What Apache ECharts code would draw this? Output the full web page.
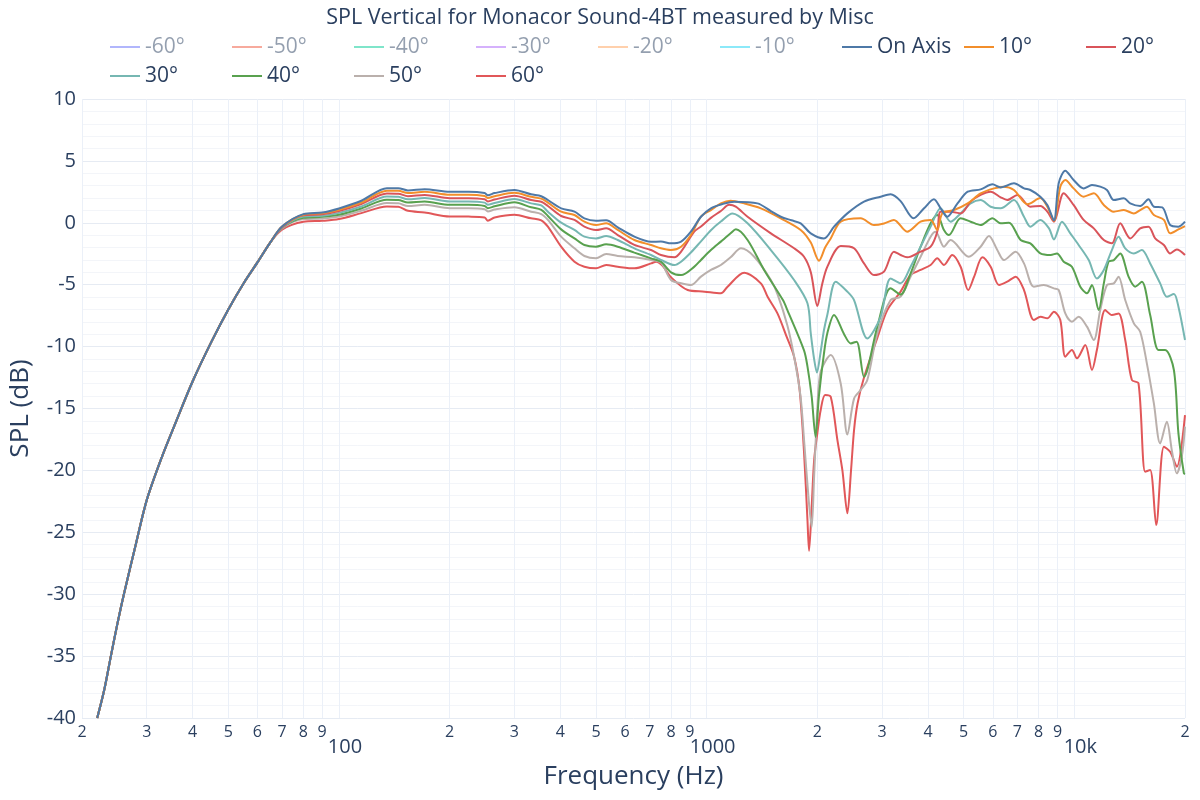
<!DOCTYPE html>
<html>
<head>
<meta charset="utf-8">
<script src="https://cdn.jsdelivr.net/npm/echarts@6.0.0/dist/echarts.min.js"></script>
<style>
html,body{margin:0;padding:0;background:#fff;}
#chart{width:1200px;height:800px;}
</style>
</head>
<body>
<div id="chart"></div>
<script>
const TITLE = 'SPL Vertical for Monacor Sound-4BT measured by Misc';
const X_TICKS = [20,30,40,50,60,70,80,90,100,200,300,400,500,600,700,800,900,1000,2000,3000,4000,5000,6000,7000,8000,9000,10000,20000];

// shared low-frequency roll-off (all angles coincide here)
const FREQ_LOW = [22,23,24,25,26,28,30,33,36,40,45,50,55,60,65];
const SPL_LOW = [-40,-37.7,-34.9,-32.3,-30,-26,-22.4,-18.9,-16.1,-12.8,-9.6,-7,-4.9,-3.2,-1.6];

const ON_AXIS = [[70,-0.3],[80,0.7],[90,0.83],[100,1.16],[115,1.78],[135,2.8],[145,2.8],[154,2.61],[171,2.72],[200,2.5],[225,2.5],[249,2.4],[254,2.23],[265,2.4],[300,2.65],[333,2.3],[355,2.15],[370,1.84],[402,1.17],[437,0.9],[465,0.36],[500,0.17],[533,0.2],[573,-0.37],[636,-1.12],[706,-1.53],[751,-1.52],[800,-1.66],[852,-1.52],[906,-0.72],[965,0.49],[1027,1.17],[1100,1.5],[1188,1.71],[1375,1.57],[1495,0.95],[1591,0.49],[1700,0.2],[1802,-0.04],[1919,-0.85],[2085,-1.26],[2221,-0.31],[2414,0.76],[2679,1.71],[2973,2.11],[3165,2.3],[3369,1.75],[3655,0.36],[3902,1.17],[4151,1.9],[4329,1.17],[4511,0.49],[4812,1.57],[5128,2.51],[5561,2.7],[5988,3.11],[6303,2.86],[6852,3.19],[7296,2.78],[7593,2.65],[8083,2.11],[8444,1.44],[8800,0.2],[9068,3.19],[9451,4.21],[9954,3.46],[10600,2.78],[11168,3.05],[11763,2.92],[12266,2.65],[12807,1.84],[13636,1.98],[14191,1.57],[15106,1.36],[15912,1.9],[16458,1.3],[17344,1.25],[18224,-0.18],[19194,-0.31],[20000,0.09]];

const DEG_10 = [[70,-0.3],[80,0.65],[90,0.78],[100,1.05],[115,1.64],[135,2.58],[145,2.58],[154,2.4],[171,2.5],[200,2.26],[225,2.26],[249,2.16],[254,2.0],[265,2.15],[300,2.42],[333,2.1],[355,1.95],[370,1.63],[402,0.9],[437,0.63],[465,0.09],[500,-0.18],[533,-0.04],[573,-0.58],[636,-1.39],[706,-1.79],[751,-2.06],[800,-2.2],[852,-1.93],[906,-0.99],[965,0.49],[1027,1.03],[1093,1.57],[1162,1.79],[1265,1.57],[1404,1.17],[1591,0.36],[1802,-0.58],[1920,-1.6],[2021,-3.06],[2100,-2.0],[2175,-1.26],[2316,0.09],[2624,0.36],[2852,-0.18],[3036,-0.05],[3231,0.23],[3510,-0.72],[3819,0.09],[4066,0.23],[4238,-0.58],[4374,0.76],[4708,1.03],[5128,1.57],[5561,2.38],[6051,2.78],[6435,2.92],[6852,2.65],[7443,1.5],[7593,1.57],[8083,2.0],[8444,1.3],[8800,0.17],[9160,2.92],[9451,3.46],[9954,2.78],[10600,2.11],[11298,2.38],[12029,1.44],[12807,0.9],[13636,1.03],[14518,0.76],[15106,1.03],[15750,1.3],[16458,0.63],[17523,0.23],[18224,-0.85],[19194,-0.53],[20000,-0.26]];

const DEG_20 = [[70,-0.35],[80,0.6],[90,0.68],[100,0.95],[115,1.51],[135,2.37],[145,2.35],[154,2.15],[171,2.25],[200,1.99],[225,1.99],[249,1.9],[254,1.72],[265,1.88],[300,2.18],[333,1.84],[355,1.7],[370,1.36],[402,0.55],[437,0.23],[465,-0.31],[500,-0.58],[533,-0.45],[573,-0.99],[636,-1.79],[706,-2.2],[751,-2.6],[817,-2.79],[852,-2.33],[926,-0.7],[965,-0.3],[1027,0.4],[1093,0.95],[1151,1.45],[1200,1.3],[1292,0.49],[1495,-0.85],[1729,-2.06],[1840,-2.74],[1920,-4.0],[2000,-6.72],[2060,-5.0],[2130,-3.54],[2316,-1.88],[2517,-2.06],[2679,-3.28],[2852,-4.22],[3036,-3.95],[3231,-2.33],[3369,-2.6],[3510,-2.79],[3819,-2.33],[4066,-1.93],[4238,-0.72],[4329,0.9],[4608,0.9],[4906,0.76],[5224,1.71],[5561,2.25],[5921,2.51],[6303,2.06],[6570,1.84],[7000,2.25],[7593,1.3],[8083,1.36],[8444,0.9],[8800,0.09],[9356,2.38],[9954,1.44],[10600,0.23],[11298,-0.45],[12029,-1.39],[12650,-1.66],[13330,-0.04],[14191,-1.26],[15106,-0.45],[15912,-0.31],[16592,-1.26],[17523,-1.79],[18224,-2.47],[19000,-2.15],[20000,-2.6]];

const DEG_30 = [[70,-0.4],[80,0.5],[90,0.57],[100,0.8],[115,1.32],[135,2.13],[145,2.1],[154,1.9],[171,2.0],[200,1.72],[225,1.72],[249,1.63],[254,1.45],[265,1.6],[300,1.92],[333,1.57],[355,1.4],[370,0.9],[402,0.01],[437,-0.58],[465,-1.12],[500,-1.26],[533,-1.07],[573,-1.39],[636,-2.06],[706,-2.6],[751,-3.0],[817,-3.41],[852,-3.14],[906,-2.4],[965,-1.5],[1027,-0.6],[1093,0.1],[1176,0.76],[1292,-0.04],[1495,-2.2],[1729,-4.62],[1880,-6.5],[1919,-8.9],[1960,-11.0],[1995,-12.1],[2040,-10.5],[2085,-8.66],[2130,-7.4],[2245,-4.76],[2414,-5.56],[2517,-6.24],[2735,-9.34],[2973,-7.59],[3165,-4.49],[3369,-4.89],[3587,-3.55],[3819,-1.93],[4066,-0.31],[4329,1.17],[4608,0.09],[4906,0.76],[5224,1.57],[5561,1.84],[5921,1.3],[6303,1.17],[6852,1.84],[7296,0.49],[7593,-0.31],[8083,0.23],[8535,-0.45],[8800,-1.34],[9256,0.09],[9751,-0.85],[10273,-1.79],[10943,-3.01],[11518,-4.49],[12029,-3.81],[12650,-2.2],[13190,-1.12],[13754,-2.06],[14518,-2.47],[15265,-2.2],[16081,-3.28],[17119,-4.89],[17849,-5.97],[18656,-5.75],[19194,-6.78],[20000,-9.47]];

const DEG_40 = [[70,-0.4],[80,0.4],[90,0.48],[100,0.65],[115,1.16],[135,1.86],[145,1.84],[154,1.64],[171,1.72],[200,1.45],[225,1.45],[249,1.36],[254,1.18],[265,1.33],[300,1.65],[333,1.25],[355,1.05],[370,0.55],[402,-0.53],[437,-1.26],[465,-1.79],[500,-1.93],[533,-1.74],[573,-1.93],[636,-2.41],[706,-2.87],[751,-3.14],[800,-4.0],[852,-4.22],[926,-3.54],[965,-3.0],[1027,-2.2],[1093,-1.52],[1162,-0.85],[1201,-0.53],[1292,-1.39],[1433,-3.81],[1612,-6.24],[1658,-7.05],[1840,-10.3],[1880,-11.6],[1930,-14.0],[1978,-17.3],[2020,-14.0],[2085,-10.55],[2130,-8.9],[2221,-7.45],[2365,-9.0],[2465,-9.74],[2557,-9.6],[2679,-12.43],[2912,-8.39],[3165,-5.29],[3369,-5.8],[3587,-4.08],[3819,-1.93],[4066,-0.04],[4238,0.63],[4420,-0.58],[4560,-0.99],[4906,0.36],[5224,0.09],[5561,-0.18],[5988,0.36],[6303,-0.04],[6641,0.01],[7145,-1.39],[7593,-1.66],[8083,-2.47],[8622,-2.6],[8970,-2.47],[9356,-3.14],[9850,-3.55],[10381,-5.16],[10825,-5.7],[11168,-5.03],[11643,-7.05],[12029,-4.89],[12393,-3.14],[12807,-3.01],[13330,-2.47],[14044,-4.35],[14641,-5.16],[15265,-4.76],[16081,-7.45],[16940,-10.28],[17663,-10.28],[18656,-11.89],[19194,-17.01],[19864,-20.24],[20000,-20.3]];

const DEG_50 = [[70,-0.45],[80,0.3],[90,0.35],[100,0.5],[115,0.97],[135,1.59],[145,1.57],[154,1.35],[171,1.45],[200,1.18],[225,1.18],[249,1.1],[254,0.92],[265,1.07],[300,1.25],[333,0.9],[355,0.7],[370,0.23],[402,-1.12],[437,-2.06],[465,-2.68],[500,-2.87],[533,-2.52],[573,-2.68],[636,-2.79],[706,-3.0],[751,-3.22],[800,-4.62],[852,-4.89],[906,-5.03],[965,-4.35],[1027,-3.81],[1093,-3.41],[1162,-2.79],[1240,-2.06],[1347,-2.74],[1495,-4.62],[1560,-5.8],[1658,-8.3],[1729,-10.8],[1800,-14.0],[1840,-17.5],[1890,-22.0],[1930,-24.6],[1960,-20.5],[2000,-15.0],[2043,-12.0],[2175,-10.68],[2316,-13.0],[2414,-17.1],[2517,-14.2],[2624,-13.5],[2735,-12.7],[2912,-8.93],[3165,-6.24],[3369,-5.97],[3587,-4.35],[3819,-2.74],[4066,-1.12],[4195,-0.72],[4420,-1.93],[4608,-1.39],[5163,-2.74],[5561,-1.93],[5859,-1.07],[6173,-2.2],[6435,-3.01],[6925,-2.33],[7296,-3.28],[7761,-5.16],[8262,-5.03],[8800,-5.3],[9068,-5.43],[9451,-7.32],[9850,-7.99],[10273,-7.59],[10825,-8.39],[11298,-9.47],[11763,-7.05],[12266,-5.03],[12807,-4.89],[13190,-4.35],[13754,-6.24],[14518,-8.12],[15106,-8.8],[15750,-11.35],[16458,-14.59],[17119,-17.82],[17849,-16.07],[18412,-18.36],[19000,-20.24],[19598,-18.9],[20000,-16.47]];

const DEG_60 = [[70,-0.55],[80,0.08],[90,0.16],[100,0.3],[115,0.78],[135,1.32],[145,1.3],[154,0.97],[171,0.83],[200,0.51],[225,0.5],[249,0.43],[254,0.16],[265,0.43],[300,0.65],[333,0.36],[355,0.2],[370,-0.31],[402,-1.93],[437,-3.14],[465,-3.55],[500,-3.68],[533,-3.41],[573,-3.55],[636,-3.68],[706,-3.28],[729,-3.15],[760,-3.5],[800,-4.4],[888,-5.43],[987,-5.56],[1093,-5.7],[1140,-5.16],[1265,-4.03],[1404,-4.89],[1466,-6.0],[1558,-7.32],[1650,-9.2],[1729,-10.82],[1790,-13.5],[1840,-18.5],[1880,-24.0],[1899,-26.5],[1930,-23.0],[1960,-19.2],[2000,-17.0],[2043,-15.1],[2100,-13.9],[2175,-14.05],[2268,-17.55],[2340,-20.0],[2414,-23.47],[2470,-20.0],[2517,-16.74],[2573,-14.6],[2679,-12.5],[2912,-9.3],[3100,-7.05],[3369,-5.56],[3587,-4.22],[3819,-3.81],[4066,-3.41],[4238,-2.87],[4420,-3.41],[4656,-2.6],[4906,-3.55],[5145,-5.43],[5340,-4.35],[5623,-2.79],[5921,-3.55],[6240,-5.03],[6570,-4.76],[6925,-4.35],[7296,-5.43],[7761,-7.85],[8098,-7.59],[8444,-7.72],[8800,-7.18],[9160,-7.85],[9451,-10.82],[9850,-10.28],[10166,-10.95],[10710,-9.87],[11168,-11.89],[11518,-10.28],[12137,-7.05],[12650,-7.45],[13190,-7.32],[13754,-9.47],[14339,-12.7],[14948,-12.97],[15586,-20.11],[16081,-19.97],[16701,-24.42],[17523,-18.09],[18224,-18.49],[19000,-19.7],[20000,-15.53]];

const HIDDEN_NAMES = ['-60°','-50°','-40°','-30°','-20°','-10°'];
const HIDDEN_COLORS = ['rgba(99,110,250,0.5)','rgba(239,85,59,0.5)','rgba(0,204,150,0.5)','rgba(171,99,250,0.5)','rgba(255,161,90,0.5)','rgba(25,211,243,0.5)'];
const SHOWN_NAMES = ['On Axis','10°','20°','30°','40°','50°','60°'];
const SHOWN_COLORS = ['#4e79a7','#f28e2b','#d9545a','#76b7b2','#59a14f','#bab0ac','#e15759'];
const SHOWN_DATA = [ON_AXIS, DEG_10, DEG_20, DEG_30, DEG_40, DEG_50, DEG_60];

const FONT = '"Open Sans", Verdana, Arial, sans-serif';
const TXT = '#2a3f5f';

function withLow(points){
  return FREQ_LOW.map((f,i)=>[f, SPL_LOW[i]]).concat(points);
}

const series = [];
HIDDEN_NAMES.forEach((n,i)=>{
  series.push({name:n, type:'line', data:[], symbol:'none', color:HIDDEN_COLORS[i], lineStyle:{width:2, color:HIDDEN_COLORS[i]}});
});
SHOWN_NAMES.forEach((n,i)=>{
  series.push({name:n, type:'line', data:withLow(SHOWN_DATA[i]), symbol:'none', smooth:0.3,
    color:SHOWN_COLORS[i], lineStyle:{width:2, color:SHOWN_COLORS[i]}, z: 10 - i});
});

// one legend box per entry, laid out on a fixed 122px column grid (two rows)
const allNames = HIDDEN_NAMES.concat(SHOWN_NAMES);
const legends = allNames.map((n,i)=>{
  const row = i < 9 ? 0 : 1;
  const col = i < 9 ? i : i - 9;
  return {
    show:true, orient:'horizontal', left:109 + col*122, top: row === 0 ? 35 : 64,
    padding:0, itemWidth:30, itemHeight:14, itemGap:5, selectedMode:false,
    itemStyle:{opacity:0},
    lineStyle:{width:2},
    textStyle:{fontFamily:FONT, fontSize:21, lineHeight:24, color: i < 6 ? 'rgba(42,63,95,0.5)' : TXT},
    data:[n]
  };
});

const chart = echarts.init(document.getElementById('chart'), null, {renderer:'canvas'});
chart.setOption({
  animation:false,
  backgroundColor:'#ffffff',
  title:{text:TITLE, left:'center', top:2, textStyle:{fontFamily:FONT, fontSize:21.5, fontWeight:'normal', color:TXT}},
  legend:legends,
  grid:{left:80, right:15, top:99, bottom:82, containLabel:false},
  xAxis:{
    type:'log', logBase:10, min:20, max:20000,
    name:'Frequency (Hz)', nameLocation:'middle', nameGap:46,
    nameTextStyle:{fontFamily:FONT, fontSize:26, color:TXT},
    axisLine:{show:false}, axisTick:{show:false, customValues:X_TICKS},
    axisLabel:{customValues:X_TICKS, margin:6, fontFamily:FONT, fontSize:16, color:TXT,
      formatter:function(v){
        const e = Math.round(Math.log10(v));
        const m = v/Math.pow(10,e);
        if (Math.abs(m-1) < 1e-6) {
          return '{big|' + (v >= 10000 ? (v/1000)+'k' : v) + '}';
        }
        return String(Math.round(v/Math.pow(10,Math.floor(Math.log10(v)+1e-9))));
      },
      rich:{big:{fontFamily:FONT, fontSize:20, color:TXT, padding:[13,0,0,12]}}
    },
    splitLine:{show:true, lineStyle:{color:'#ebf0f8', width:1}}
  },
  yAxis:{
    type:'value', min:-40, max:10, interval:5,
    name:'SPL (dB)', nameLocation:'middle', nameGap:48,
    nameTextStyle:{fontFamily:FONT, fontSize:26, color:TXT},
    axisLine:{show:false}, axisTick:{show:false},
    axisLabel:{margin:6, fontFamily:FONT, fontSize:20, color:TXT},
    splitLine:{show:true, lineStyle:{color:'#e6ebf3', width:1}},
    minorTick:{show:false, splitNumber:5},
    minorSplitLine:{show:true, lineStyle:{color:'#f3f5f9', width:1}}
  },
  series:series
});
</script>
</body>
</html>
